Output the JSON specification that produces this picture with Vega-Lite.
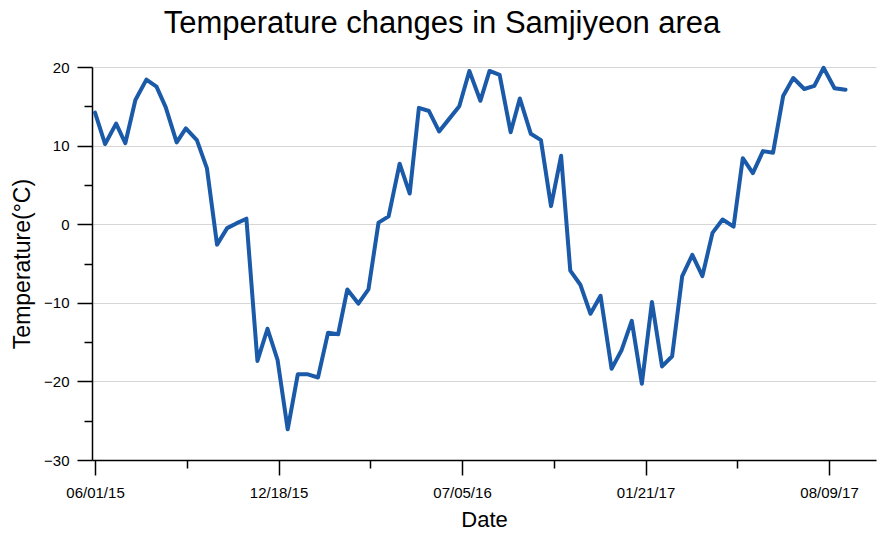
{
  "$schema": "https://vega.github.io/schema/vega-lite/v6.json",
  "width": 784,
  "height": 393,
  "autosize": {"type": "none"},
  "padding": {"left": 92, "top": 67, "right": 17, "bottom": 83},
  "title": {
    "text": "Temperature changes in Samjiyeon area",
    "fontSize": 31,
    "font": "Liberation Sans",
    "fontWeight": "normal",
    "color": "#000000",
    "anchor": "middle",
    "dx": -42,
    "offset": 20
  },
  "config": {"view": {"stroke": null}, "font": "Liberation Sans"},
  "data": {
    "values": [
      {"date": "2015-06-01", "temp": 14.2},
      {"date": "2015-06-12", "temp": 10.2},
      {"date": "2015-06-24", "temp": 12.8},
      {"date": "2015-07-04", "temp": 10.3},
      {"date": "2015-07-15", "temp": 15.8},
      {"date": "2015-07-27", "temp": 18.4},
      {"date": "2015-08-07", "temp": 17.5},
      {"date": "2015-08-17", "temp": 14.9},
      {"date": "2015-08-29", "temp": 10.4},
      {"date": "2015-09-08", "temp": 12.2},
      {"date": "2015-09-20", "temp": 10.7},
      {"date": "2015-10-01", "temp": 7.1},
      {"date": "2015-10-12", "temp": -2.6},
      {"date": "2015-10-23", "temp": -0.5},
      {"date": "2015-11-02", "temp": 0.1},
      {"date": "2015-11-13", "temp": 0.7},
      {"date": "2015-11-25", "temp": -17.4},
      {"date": "2015-12-06", "temp": -13.3},
      {"date": "2015-12-17", "temp": -17.3},
      {"date": "2015-12-28", "temp": -26.1},
      {"date": "2016-01-08", "temp": -19.1},
      {"date": "2016-01-19", "temp": -19.1},
      {"date": "2016-01-30", "temp": -19.5},
      {"date": "2016-02-10", "temp": -13.8},
      {"date": "2016-02-21", "temp": -14.0},
      {"date": "2016-03-02", "temp": -8.3},
      {"date": "2016-03-14", "temp": -10.1},
      {"date": "2016-03-25", "temp": -8.3},
      {"date": "2016-04-05", "temp": 0.2},
      {"date": "2016-04-16", "temp": 1.0},
      {"date": "2016-04-28", "temp": 7.7},
      {"date": "2016-05-09", "temp": 3.9},
      {"date": "2016-05-19", "temp": 14.8},
      {"date": "2016-05-30", "temp": 14.4},
      {"date": "2016-06-10", "temp": 11.8},
      {"date": "2016-06-21", "temp": 13.4},
      {"date": "2016-07-02", "temp": 15.0},
      {"date": "2016-07-13", "temp": 19.5},
      {"date": "2016-07-25", "temp": 15.7},
      {"date": "2016-08-04", "temp": 19.5},
      {"date": "2016-08-15", "temp": 19.0},
      {"date": "2016-08-27", "temp": 11.7},
      {"date": "2016-09-06", "temp": 16.0},
      {"date": "2016-09-18", "temp": 11.5},
      {"date": "2016-09-29", "temp": 10.7},
      {"date": "2016-10-10", "temp": 2.3},
      {"date": "2016-10-21", "temp": 8.7},
      {"date": "2016-10-31", "temp": -5.9},
      {"date": "2016-11-11", "temp": -7.7},
      {"date": "2016-11-22", "temp": -11.4},
      {"date": "2016-12-03", "temp": -9.1},
      {"date": "2016-12-15", "temp": -18.4},
      {"date": "2016-12-26", "temp": -16.0},
      {"date": "2017-01-06", "temp": -12.3},
      {"date": "2017-01-17", "temp": -20.3},
      {"date": "2017-01-28", "temp": -9.9},
      {"date": "2017-02-08", "temp": -18.1},
      {"date": "2017-02-19", "temp": -16.8},
      {"date": "2017-03-02", "temp": -6.6},
      {"date": "2017-03-13", "temp": -3.9},
      {"date": "2017-03-24", "temp": -6.6},
      {"date": "2017-04-04", "temp": -1.1},
      {"date": "2017-04-15", "temp": 0.6},
      {"date": "2017-04-27", "temp": -0.3},
      {"date": "2017-05-07", "temp": 8.4},
      {"date": "2017-05-18", "temp": 6.5},
      {"date": "2017-05-29", "temp": 9.3},
      {"date": "2017-06-09", "temp": 9.1},
      {"date": "2017-06-20", "temp": 16.3},
      {"date": "2017-07-01", "temp": 18.6},
      {"date": "2017-07-13", "temp": 17.2},
      {"date": "2017-07-24", "temp": 17.6},
      {"date": "2017-08-03", "temp": 19.9},
      {"date": "2017-08-15", "temp": 17.3},
      {"date": "2017-08-27", "temp": 17.1}
    ]
  },
  "layer": [
    {
      "mark": {"type": "line", "strokeOpacity": 0},
      "encoding": {
        "x": {
          "field": "date",
          "type": "temporal",
          "scale": {
            "type": "utc",
            "domain": [
              {"year": 2015, "month": 5, "date": 28, "hours": 17, "utc": true},
              {"year": 2017, "month": 9, "date": 29, "hours": 5, "utc": true}
            ]
          },
          "axis": {
            "orient": "bottom",
            "values": [
              {"year": 2015, "month": 9, "date": 9, "utc": true},
              {"year": 2016, "month": 3, "date": 27, "utc": true},
              {"year": 2016, "month": 10, "date": 13, "utc": true},
              {"year": 2017, "month": 5, "date": 1, "utc": true}
            ],
            "labels": false,
            "domain": false,
            "grid": false,
            "tickSize": 8,
            "tickWidth": 1.5,
            "tickColor": "#000000",
            "title": null
          }
        },
        "y": {
          "field": "temp",
          "type": "quantitative",
          "scale": {"domain": [-30, 20], "nice": false, "zero": false},
          "axis": {
            "orient": "left",
            "values": [15, 5, -5, -15, -25],
            "labels": false,
            "domain": false,
            "grid": false,
            "tickSize": 8,
            "tickWidth": 1.5,
            "tickColor": "#000000",
            "title": null
          }
        }
      }
    },
    {
      "mark": {"type": "line", "color": "#1a5aa8", "strokeWidth": 4, "strokeJoin": "round", "strokeCap": "round"},
      "encoding": {
        "x": {
          "field": "date",
          "type": "temporal",
          "axis": {
            "orient": "bottom",
            "values": [
              {"year": 2015, "month": 6, "date": 1, "utc": true},
              {"year": 2015, "month": 12, "date": 18, "utc": true},
              {"year": 2016, "month": 7, "date": 5, "utc": true},
              {"year": 2017, "month": 1, "date": 21, "utc": true},
              {"year": 2017, "month": 8, "date": 9, "utc": true}
            ],
            "format": "%m/%d/%y",
            "labelFontSize": 15,
            "labelColor": "#000000",
            "labelPadding": 10,
            "labelFlush": false,
            "labelOverlap": false,
            "tickSize": 15,
            "tickWidth": 1.5,
            "tickColor": "#000000",
            "domainColor": "#000000",
            "domainWidth": 1.5,
            "grid": false,
            "title": "Date",
            "titleFontSize": 22,
            "titleFontWeight": "normal",
            "titleColor": "#000000",
            "titlePadding": 9
          }
        },
        "y": {
          "field": "temp",
          "type": "quantitative",
          "axis": {
            "orient": "left",
            "values": [20, 10, 0, -10, -20, -30],
            "labelFontSize": 15,
            "labelColor": "#000000",
            "labelPadding": 8,
            "labelOverlap": false,
            "tickSize": 15,
            "tickWidth": 1.5,
            "tickColor": "#000000",
            "domainColor": "#000000",
            "domainWidth": 1.5,
            "grid": true,
            "gridColor": "#d6d6d6",
            "gridWidth": 1.2,
            "title": "Temperature(°C)",
            "titleFontSize": 23,
            "titleFontWeight": "normal",
            "titleColor": "#000000",
            "titlePadding": 9
          }
        }
      }
    }
  ],
  "resolve": {"axis": {"x": "independent", "y": "independent"}}
}
